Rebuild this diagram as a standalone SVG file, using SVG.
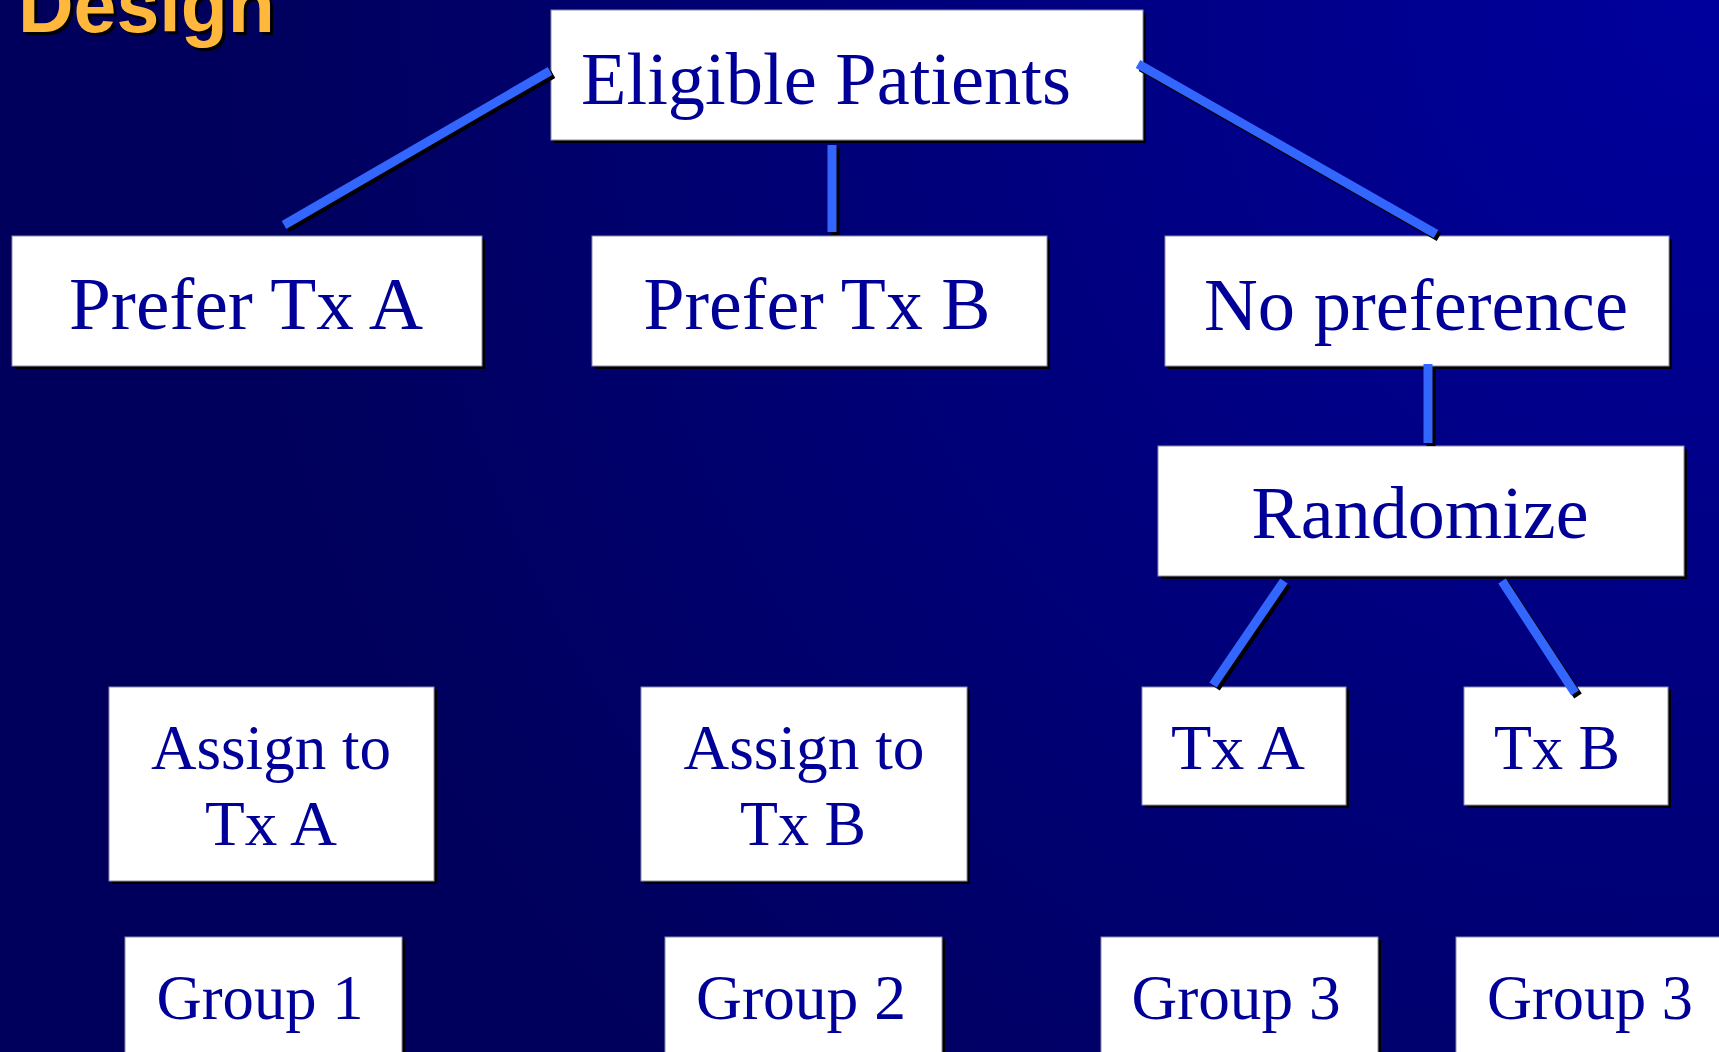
<svg xmlns="http://www.w3.org/2000/svg" width="1719" height="1052" viewBox="0 0 1719 1052">
<defs>
<radialGradient id="bg" cx="1719" cy="0" r="1500" gradientUnits="userSpaceOnUse">
<stop offset="0" stop-color="#00009E"/>
<stop offset="0.55" stop-color="#00007A"/>
<stop offset="1" stop-color="#00005C"/>
</radialGradient>
<style>
.sh{fill:#000000}
.bx{fill:#FFFFFF;stroke:#8C8CA8;stroke-width:1}
.t{font-family:"Liberation Serif","Times New Roman",serif;fill:#000099;text-anchor:middle}
.big{font-size:75px}
.sm{font-size:64px}
.c{stroke:#3366FF;stroke-width:9;stroke-linecap:butt;fill:none}
.cs{stroke:#000000;stroke-width:9;stroke-linecap:butt;fill:none}
.title{font-family:"Liberation Sans",Arial,sans-serif;font-weight:bold;font-size:77px}
</style>
</defs>
<rect x="0" y="0" width="1719" height="1052" fill="url(#bg)"/>
<g id="title">
<text class="title" x="21" y="35" fill="#000000">Design</text>
<text class="title" x="18" y="32" fill="#FFB83C">Design</text>
</g>
<g id="eligible">
<rect class="sh" x="554" y="13" width="592" height="130"/>
<rect class="bx" x="551" y="10" width="592" height="130"/>
<text class="t big" x="826" y="104" textLength="490" lengthAdjust="spacingAndGlyphs">Eligible Patients</text>
</g>
<g id="preferA">
<rect class="sh" x="15" y="239" width="470" height="130"/>
<rect class="bx" x="12" y="236" width="470" height="130"/>
<text class="t big" x="246" y="329" textLength="354" lengthAdjust="spacingAndGlyphs">Prefer Tx A</text>
</g>
<g id="preferB">
<rect class="sh" x="595" y="239" width="455" height="130"/>
<rect class="bx" x="592" y="236" width="455" height="130"/>
<text class="t big" x="817" y="329" textLength="347" lengthAdjust="spacingAndGlyphs">Prefer Tx B</text>
</g>
<g id="nopref">
<rect class="sh" x="1168" y="239" width="504" height="130"/>
<rect class="bx" x="1165" y="236" width="504" height="130"/>
<text class="t big" x="1416" y="330" textLength="424" lengthAdjust="spacingAndGlyphs">No preference</text>
</g>
<g id="randomize">
<rect class="sh" x="1161" y="449" width="526" height="130"/>
<rect class="bx" x="1158" y="446" width="526" height="130"/>
<text class="t big" x="1420" y="538" textLength="337" lengthAdjust="spacingAndGlyphs">Randomize</text>
</g>
<g id="assignA">
<rect class="sh" x="112" y="690" width="325" height="194"/>
<rect class="bx" x="109" y="687" width="325" height="194"/>
<text class="t sm" x="271" y="769" textLength="240" lengthAdjust="spacingAndGlyphs">Assign to</text>
<text class="t sm" x="271" y="845" textLength="132" lengthAdjust="spacingAndGlyphs">Tx A</text>
</g>
<g id="assignB">
<rect class="sh" x="644" y="690" width="326" height="194"/>
<rect class="bx" x="641" y="687" width="326" height="194"/>
<text class="t sm" x="804" y="769" textLength="241" lengthAdjust="spacingAndGlyphs">Assign to</text>
<text class="t sm" x="803" y="845" textLength="126" lengthAdjust="spacingAndGlyphs">Tx B</text>
</g>
<g id="txA">
<rect class="sh" x="1145" y="690" width="204" height="118"/>
<rect class="bx" x="1142" y="687" width="204" height="118"/>
<text class="t sm" x="1238" y="769" textLength="134" lengthAdjust="spacingAndGlyphs">Tx A</text>
</g>
<g id="txB">
<rect class="sh" x="1467" y="690" width="204" height="118"/>
<rect class="bx" x="1464" y="687" width="204" height="118"/>
<text class="t sm" x="1557" y="769" textLength="126" lengthAdjust="spacingAndGlyphs">Tx B</text>
</g>
<g id="group1">
<rect class="sh" x="128" y="940" width="277" height="130"/>
<rect class="bx" x="125" y="937" width="277" height="130"/>
<text class="t sm" x="260" y="1019" textLength="207" lengthAdjust="spacingAndGlyphs">Group 1</text>
</g>
<g id="group2">
<rect class="sh" x="668" y="940" width="277" height="130"/>
<rect class="bx" x="665" y="937" width="277" height="130"/>
<text class="t sm" x="801" y="1019" textLength="210" lengthAdjust="spacingAndGlyphs">Group 2</text>
</g>
<g id="group3a">
<rect class="sh" x="1104" y="940" width="277" height="130"/>
<rect class="bx" x="1101" y="937" width="277" height="130"/>
<text class="t sm" x="1236" y="1019" textLength="209" lengthAdjust="spacingAndGlyphs">Group 3</text>
</g>
<g id="group3b">
<rect class="sh" x="1459" y="940" width="277" height="130"/>
<rect class="bx" x="1456" y="937" width="277" height="130"/>
<text class="t sm" x="1590" y="1019" textLength="206" lengthAdjust="spacingAndGlyphs">Group 3</text>
</g>
<g id="connectors">
<g transform="translate(3,3)">
<line class="cs" x1="550" y1="71" x2="284" y2="225"/>
<line class="cs" x1="832" y1="145" x2="832" y2="232"/>
<line class="cs" x1="1138" y1="64" x2="1436" y2="234"/>
<line class="cs" x1="1428" y1="364" x2="1428" y2="443"/>
<line class="cs" x1="1284" y1="581" x2="1213" y2="685"/>
<line class="cs" x1="1502" y1="581" x2="1575" y2="693"/>
</g>
<line class="c" x1="550" y1="71" x2="284" y2="225"/>
<line class="c" x1="832" y1="145" x2="832" y2="232"/>
<line class="c" x1="1138" y1="64" x2="1436" y2="234"/>
<line class="c" x1="1428" y1="364" x2="1428" y2="443"/>
<line class="c" x1="1284" y1="581" x2="1213" y2="685"/>
<line class="c" x1="1502" y1="581" x2="1575" y2="693"/>
</g>
</svg>
